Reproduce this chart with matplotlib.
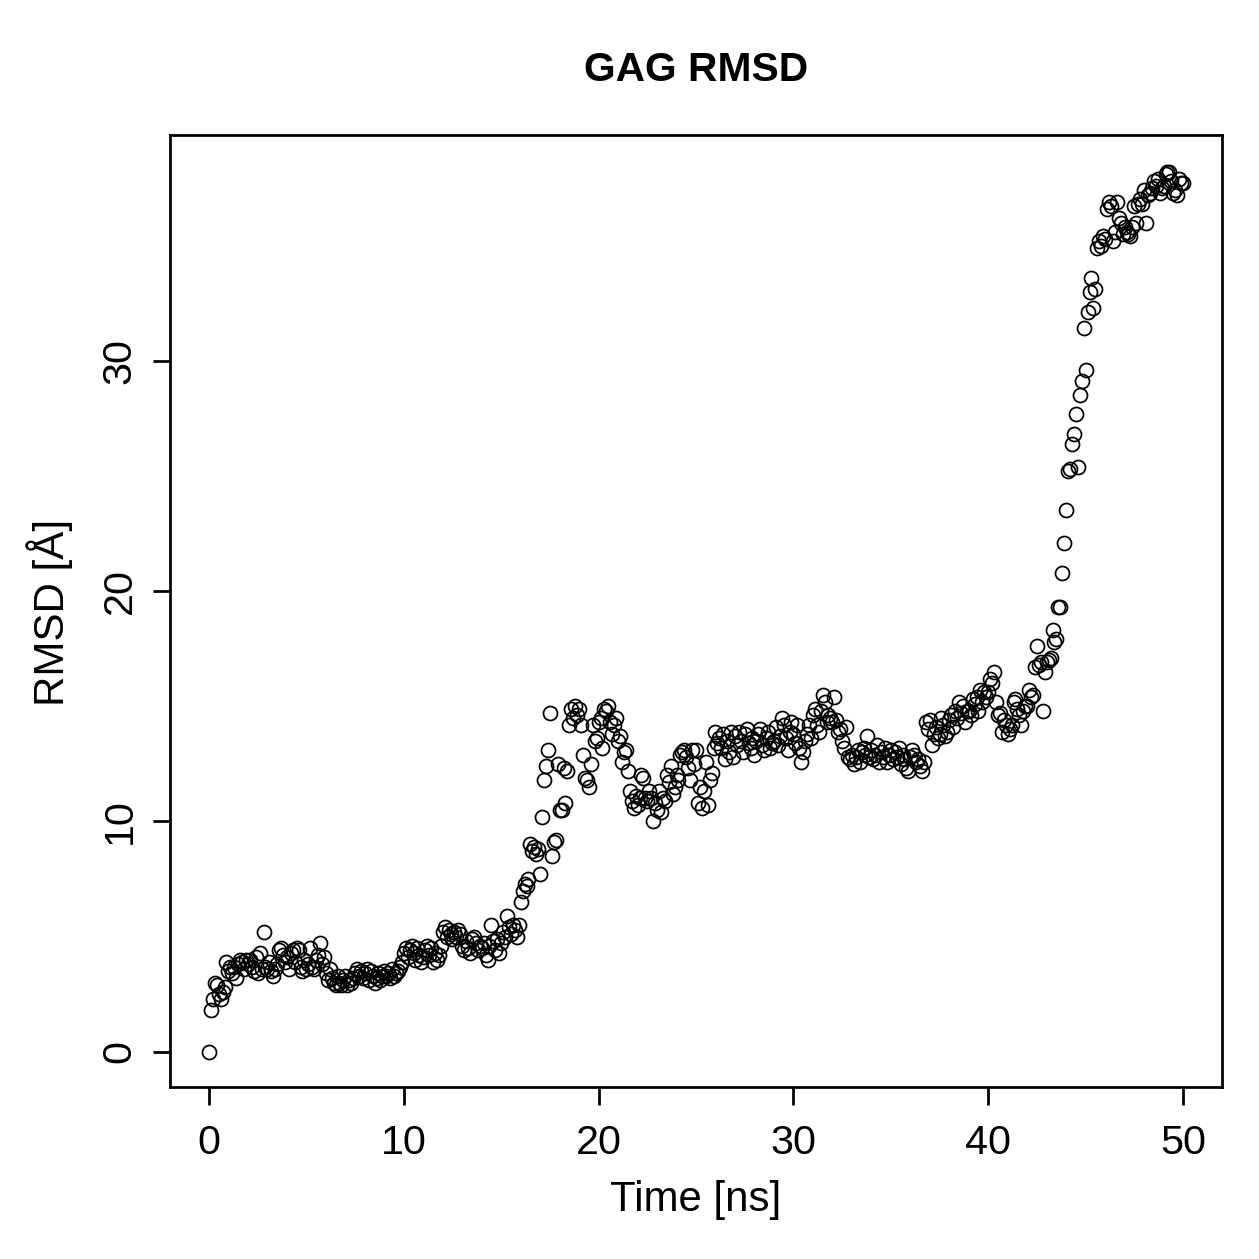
import numpy as np
import matplotlib.pyplot as plt

plt.rcParams['font.family'] = ['Liberation Sans', 'DejaVu Sans']

# RMSD, one row per ns (0.1 ns step)
rmsd = [
    0.0, 1.8, 2.3, 3.0, 2.9, 2.5, 2.3, 2.6, 2.8, 3.9,
    3.5, 3.7, 3.4, 3.7, 3.2, 3.8, 4.0, 3.9, 3.6, 4.0,
    3.8, 4.0, 3.7, 3.5, 4.1, 3.4, 4.3, 3.6, 5.2, 3.7,
    3.6, 3.9, 3.5, 3.3, 3.6, 3.8, 4.4, 4.5, 4.2, 3.9,
    4.1, 3.6, 4.3, 4.4, 3.9, 4.5, 4.4, 3.7, 3.5, 4.0,
    3.6, 3.8, 4.5, 3.7, 3.6, 4.0, 4.2, 4.7, 3.8, 4.1,
    3.4, 3.1, 3.6, 3.2, 3.0, 2.9, 3.3, 3.0, 2.9, 3.1,
    3.3, 2.9, 3.1, 3.0, 3.2, 3.4, 3.6, 3.3, 3.5, 3.2,
    3.4, 3.6, 3.1, 3.5, 3.3, 3.0, 3.2, 3.4, 3.1, 3.3,
    3.5, 3.3, 3.4, 3.2, 3.6, 3.3, 3.4, 3.5, 3.7, 3.9,
    4.3, 4.5, 4.1, 4.4, 4.6, 4.3, 4.0, 4.5, 4.2, 3.9,
    4.1, 4.4, 4.6, 4.2, 4.5, 3.9, 4.3, 4.0, 4.2, 4.6,
    5.2, 5.4, 5.0, 5.3, 5.1, 4.9, 5.2, 5.0, 5.3, 5.1,
    4.6, 4.4, 4.8, 4.5, 4.3, 4.9, 5.0, 4.7, 4.4, 4.6,
    4.5, 4.7, 4.2, 4.0, 4.6, 5.5, 4.8, 4.4, 4.9, 4.3,
    4.7, 5.2, 5.0, 5.9, 5.4, 5.1, 5.5, 5.3, 5.0, 5.5,
    6.5, 7.0, 7.3, 7.2, 7.5, 9.0, 8.7, 8.9, 8.6, 8.8,
    7.7, 10.2, 11.8, 12.4, 13.1, 14.7, 8.5, 9.1, 9.2, 12.5,
    10.5, 10.5, 12.3, 10.8, 12.2, 14.2, 14.9, 14.5, 15.0, 14.6,
    14.9, 14.2, 12.9, 11.9, 11.8, 11.5, 12.5, 14.2, 13.5, 13.6,
    14.3, 14.5, 13.2, 14.9, 14.8, 15.0, 14.3, 13.8, 14.2, 14.5,
    13.5, 13.7, 12.6, 13.0, 13.1, 12.2, 11.3, 10.9, 10.6, 11.1,
    10.7, 11.0, 12.0, 11.9, 11.0, 10.9, 11.3, 11.0, 10.0, 10.8,
    10.5, 11.3, 10.4, 11.0, 10.9, 12.0, 11.7, 12.4, 11.2, 11.5,
    12.0, 11.8, 12.9, 13.0, 13.1, 12.8, 12.3, 11.8, 13.1, 12.5,
    13.1, 10.8, 11.5, 10.6, 11.3, 12.6, 10.7, 11.8, 12.1, 13.2,
    13.9, 13.4, 13.6, 13.2, 13.8, 12.7, 13.5, 13.0, 13.9, 12.8,
    13.7, 13.3, 13.9, 13.5, 13.0, 13.8, 14.0, 13.4, 13.2, 13.6,
    12.9, 13.5, 13.8, 14.0, 13.3, 13.1, 13.6, 13.9, 13.2, 13.4,
    13.5, 14.1, 13.3, 13.7, 14.5, 14.2, 13.6, 13.1, 13.9, 14.3,
    13.8, 13.4, 14.2, 13.2, 12.6, 13.0, 13.5, 13.8, 14.2, 13.6,
    14.6, 14.9, 14.2, 13.9, 14.8, 15.5, 15.2, 14.3, 14.6, 14.5,
    14.3, 15.4, 14.4, 13.9, 14.0, 13.5, 13.2, 14.1, 12.8, 12.7,
    12.9, 12.5, 12.8, 13.1, 12.6, 13.0, 13.2, 12.9, 13.7, 12.8,
    13.1, 12.7, 12.9, 13.3, 12.6, 13.0, 12.8, 13.2, 12.6, 12.9,
    13.1, 12.7, 13.0, 12.8, 13.2, 12.5, 12.9, 12.7, 12.3, 12.2,
    12.8, 13.1, 12.9, 12.6, 12.7, 12.4, 12.2, 12.6, 14.3, 14.0,
    14.4, 13.3, 13.8, 14.1, 13.6, 13.8, 14.5, 14.2, 13.7, 13.9,
    14.4, 14.6, 14.1, 14.8, 14.5, 15.2, 14.7, 15.0, 14.3, 14.8,
    14.8, 14.6, 15.3, 15.1, 15.4, 14.8, 15.7, 15.2, 15.6, 15.4,
    15.6, 16.2, 16.0, 16.5, 15.2, 14.6, 14.7, 13.9, 14.4, 14.2,
    13.8, 14.0, 14.2, 15.2, 15.3, 14.9, 14.6, 14.2, 14.8, 15.0,
    15.0, 15.7, 15.4, 15.5, 16.7, 17.6, 16.8, 16.9, 14.8, 16.5,
    16.9, 17.0, 17.1, 18.3, 17.8, 17.9, 19.3, 19.3, 20.8, 22.1,
    23.5, 25.2, 25.3, 26.4, 26.8, 27.7, 25.4, 28.5, 29.1, 31.4,
    29.6, 32.1, 33.0, 33.6, 32.3, 33.1, 34.9, 35.2, 35.0, 35.4,
    35.3, 36.6, 36.9, 36.7, 35.2, 35.6, 36.9, 36.2, 36.0, 35.5,
    35.8, 35.6, 35.5, 35.4, 35.8, 36.7, 36.0, 36.8, 37.0, 36.8,
    37.4, 36.0, 37.2, 37.3, 37.5, 37.8, 37.6, 37.9, 37.3, 37.5,
    37.6, 38.1, 38.2, 38.2, 37.8, 37.3, 37.4, 37.2, 37.9, 37.7,
    37.7,
]
time_ns = np.arange(len(rmsd)) * 0.1

xticks = [0, 10, 20, 30, 40, 50]
yticks = [0, 10, 20, 30]

W = 1259
fig = plt.figure(figsize=(W / 180, W / 180), dpi=180)
ax = fig.add_axes([170 / W, 1 - 1087 / W, (1222 - 170) / W, (1087 - 135) / W])

ax.plot(time_ns, rmsd, linestyle='none', marker='o', markersize=5.6,
        markerfacecolor='none', markeredgecolor='black', markeredgewidth=0.7)

ax.set_xlim(-2, 52)
ax.set_ylim(-1.53, 39.8)
ax.set_xticks(xticks)
ax.set_yticks(yticks)
for s in ax.spines.values():
    s.set_linewidth(1.1)
ax.tick_params(direction='out', length=7, width=1.1, labelsize=16.5)
ax.tick_params(axis='x', pad=8)
ax.tick_params(axis='y', pad=5.5)
plt.setp(ax.get_yticklabels(), rotation=90, va='center')

fig.text(696 / W, 1 - 70 / W, 'GAG RMSD', ha='center', va='center',
         fontsize=16.3, fontweight='bold')
fig.text(696 / W, 1 - 1200 / W, 'Time [ns]', ha='center', va='center', fontsize=16.8)
fig.text(50 / W, 1 - 612 / W, 'RMSD [Å]', ha='center', va='center',
         rotation=90, fontsize=16.8)

fig.savefig('out.png', dpi=180)
